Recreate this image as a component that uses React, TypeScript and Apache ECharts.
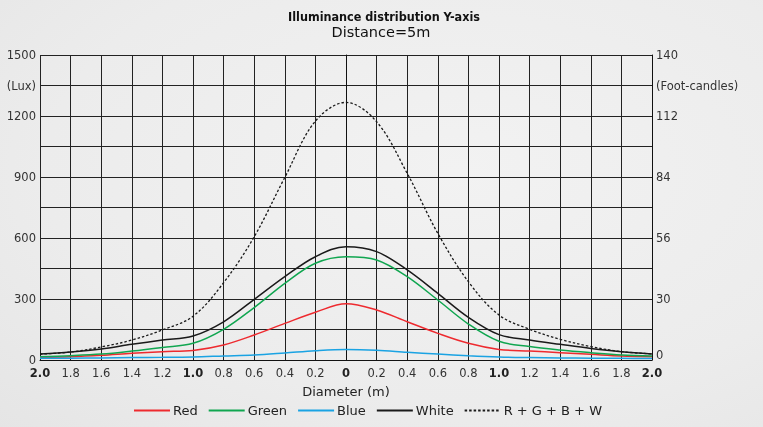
import React, { useEffect, useRef } from "react";
import * as echarts from "echarts";

const positions = [-2.0, -1.8, -1.6, -1.4, -1.2, -1.0, -0.8, -0.6, -0.4, -0.2, 0, 0.2, 0.4, 0.6, 0.8, 1.0, 1.2, 1.4, 1.6, 1.8, 2.0];

const totalRGBW = [29, 39, 64, 98, 148, 215, 380, 606, 898, 1175, 1267, 1172, 918, 623, 385, 221, 151, 102, 66, 41, 30];
const white = [29, 39, 54, 77, 98, 118, 188, 298, 410, 508, 557, 533, 443, 328, 210, 125, 98, 77, 57, 41, 30];
const green = [16, 21, 29, 44, 62, 82, 151, 258, 377, 476, 508, 492, 410, 295, 177, 92, 66, 49, 36, 25, 20];
const red = [13, 16, 23, 33, 41, 47, 74, 123, 180, 235, 277, 246, 188, 131, 82, 52, 44, 36, 28, 20, 16];
const blue = [8, 9, 10, 12, 13, 15, 20, 25, 35, 46, 52, 48, 38, 29, 21, 15, 12, 10, 9, 8, 7];

const luxLabels: Record<number, string> = { 0: "0", 300: "300", 600: "600", 900: "900", 1200: "1200", 1350: "(Lux)", 1500: "1500" };
const fcLabels: Record<number, string> = { 0: "0", 300: "30", 600: "56", 900: "84", 1200: "112", 1350: "(Foot-candles)", 1500: "140" };
const boldTicks = ["2.0", "1.0", "0"];

const FONT = "'DejaVu Sans', sans-serif";
const FONT_C = "'DejaVu Sans Condensed', 'DejaVu Sans', sans-serif";

const pairs = (ys: number[]) => positions.map((x, i) => [x, ys[i]]);

export default function App() {
  const ref = useRef<HTMLDivElement>(null);
  useEffect(() => {
    if (!ref.current) return;
    const chart = echarts.init(ref.current, undefined, { renderer: "svg" });
    const mk = (name: string, data: number[], color: string, type: any = "solid", width = 1.5) => ({
      name,
      type: "line",
      data: pairs(data),
      smooth: 0.35,
      symbol: "none",
      showSymbol: false,
      lineStyle: { color, width, type },
      itemStyle: { color },
      yAxisIndex: 0,
    });
    chart.setOption({
      animation: false,
      backgroundColor: {
        type: "radial",
        x: 0.6,
        y: 0.4,
        r: 0.9,
        colorStops: [
          { offset: 0, color: "#f2f2f2" },
          { offset: 0.6, color: "#ececec" },
          { offset: 1, color: "#e4e4e4" },
        ],
      },
      textStyle: { fontFamily: FONT },
      title: [
        {
          text: "Illuminance distribution Y-axis",
          left: 379,
          top: 5,
          textAlign: "center",
          textStyle: { fontSize: 12.5, fontWeight: "bold", color: "#111", fontFamily: FONT_C },
        },
        {
          text: "Distance=5m",
          left: 376,
          top: 19,
          textAlign: "center",
          textStyle: { fontSize: 14.5, fontWeight: "normal", color: "#111", fontFamily: FONT },
        },
      ],
      grid: { left: 40, right: 111, top: 55, bottom: 67, containLabel: false },
      legend: {
        left: 128,
        top: 399,
        itemWidth: 36,
        itemHeight: 14,
        itemGap: 10,
        itemStyle: { opacity: 0 },
        textStyle: { fontSize: 13, color: "#222", fontFamily: FONT, padding: [0, 0, 0, -2] },
        data: ["Red", "Green", "Blue", "White", "R + G + B + W"],
      },
      xAxis: {
        type: "value",
        min: -2,
        max: 2,
        interval: 0.2,
        name: "Diameter (m)",
        nameLocation: "middle",
        nameGap: 25,
        nameTextStyle: { fontSize: 13, color: "#222", fontFamily: FONT },
        axisLine: { show: true, lineStyle: { color: "#111", width: 1 } },
        axisTick: { show: false },
        splitLine: { show: true, lineStyle: { color: "#222", width: 1 } },
        axisLabel: {
          margin: 7,
          fontSize: 11.5,
          color: "#333",
          fontFamily: FONT,
          formatter: (v: number) => {
            const a = Math.abs(v);
            const s = a < 1e-6 ? "0" : a.toFixed(1);
            return boldTicks.includes(s) ? `{b|${s}}` : s;
          },
          rich: { b: { fontWeight: "bold", fontSize: 11.5, color: "#222", fontFamily: FONT } },
        },
      },
      yAxis: [
        {
          type: "value",
          min: 0,
          max: 1500,
          interval: 150,
          position: "left",
          axisLine: { show: true, lineStyle: { color: "#111" } },
          axisTick: { show: false },
          splitLine: { show: true, lineStyle: { color: "#222", width: 1 } },
          axisLabel: {
            margin: 4,
            fontSize: 11.5,
            color: "#333",
            fontFamily: FONT,
            formatter: (v: number) => luxLabels[Math.round(v)] ?? "",
          },
        },
        {
          type: "value",
          min: 0,
          max: 1500,
          interval: 150,
          position: "right",
          axisLine: { show: true, lineStyle: { color: "#111" } },
          axisTick: { show: false },
          splitLine: { show: false },
          axisLabel: {
            margin: 4,
            fontSize: 11.5,
            color: "#333",
            fontFamily: FONT,
            formatter: (v: number) => {
              const s = fcLabels[Math.round(v)] ?? "";
              return Math.round(v) === 0 ? `{z|${s}}` : s;
            },
            rich: { z: { fontSize: 11.5, color: "#333", fontFamily: FONT, padding: [0, 0, 10, 0] } },
          },
        },
      ],
      series: [
        mk("Red", red, "#ee2a2f"),
        mk("Green", green, "#10a650"),
        mk("Blue", blue, "#1aa3e3"),
        mk("White", white, "#1a1a1a"),
        mk("R + G + B + W", totalRGBW, "#1a1a1a", [2.5, 2], 1.3),
      ],
    });
    return () => chart.dispose();
  }, []);
  return <div ref={ref} style={{ position: "fixed", left: 0, top: 0, width: 763, height: 427 }} />;
}
